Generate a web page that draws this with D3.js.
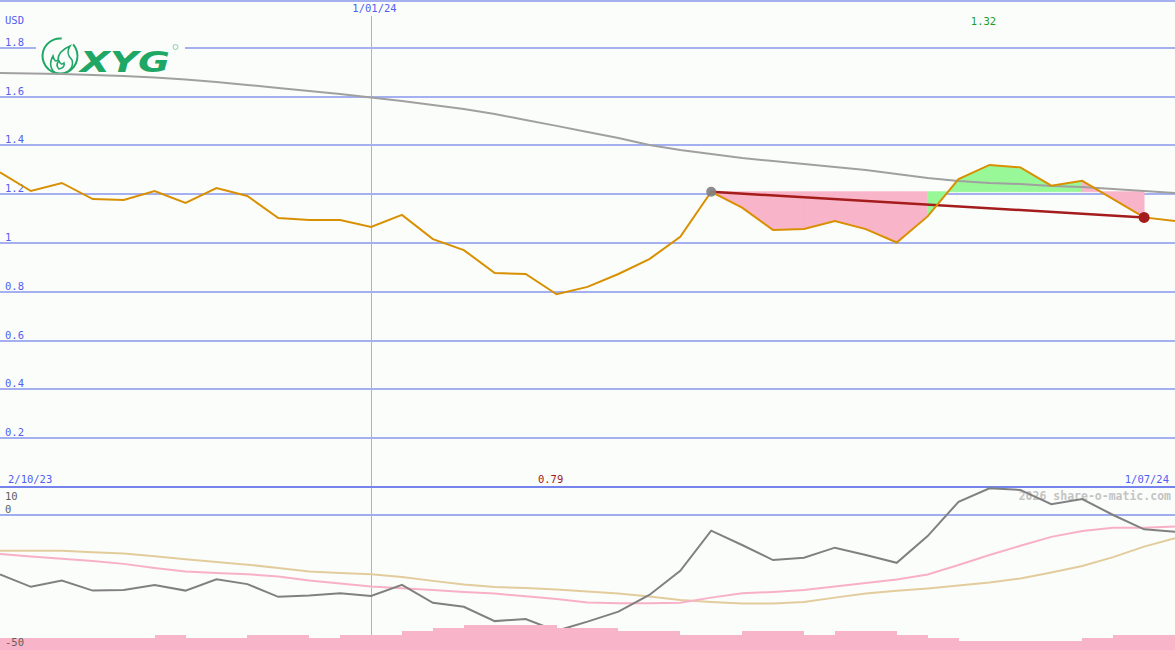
<!DOCTYPE html>
<html><head><meta charset="utf-8">
<script src="https://cdn.jsdelivr.net/npm/d3@7"></script>
<style>html,body{margin:0;padding:0;background:#fbfdfb;overflow:hidden}</style>
</head><body>
<svg id="c" width="1175" height="650"></svg>
<script>
const dates = ["2023-10-09","2023-10-16","2023-10-23","2023-10-30","2023-11-06","2023-11-13","2023-11-20","2023-11-27","2023-12-04","2023-12-11","2023-12-18","2023-12-25","2024-01-01","2024-01-08","2024-01-15","2024-01-22","2024-01-29","2024-02-05","2024-02-12","2024-02-19","2024-02-26","2024-03-04","2024-03-11","2024-03-18","2024-03-25","2024-04-01","2024-04-08","2024-04-15","2024-04-22","2024-04-29","2024-05-06","2024-05-13","2024-05-20","2024-05-27","2024-06-03","2024-06-10","2024-06-17","2024-06-24","2024-07-01"];
const price = [1.29,1.213,1.246,1.18,1.176,1.213,1.164,1.225,1.193,1.102,1.094,1.094,1.066,1.115,1.016,0.971,0.877,0.873,0.79,0.82,0.873,0.934,1.025,1.21,1.145,1.053,1.057,1.09,1.057,1.002,1.109,1.262,1.32,1.31,1.235,1.255,1.18,1.105,1.09];
const longMA = [1.697,1.695,1.693,1.689,1.684,1.678,1.670,1.660,1.648,1.635,1.623,1.611,1.596,1.582,1.566,1.549,1.529,1.504,1.480,1.455,1.430,1.402,1.381,1.365,1.348,1.336,1.324,1.311,1.299,1.283,1.266,1.254,1.246,1.242,1.234,1.230,1.221,1.213,1.205];
const osc = [-22.0,-26.6,-24.3,-28.0,-27.8,-25.9,-28.0,-23.8,-25.6,-30.3,-29.8,-29.0,-30.0,-25.9,-32.5,-34.0,-39.3,-38.5,-42.9,-39.5,-35.8,-29.6,-20.7,-5.8,-11.1,-16.7,-15.8,-12.1,-14.8,-17.7,-7.8,4.9,9.9,9.3,4.0,5.9,0,-5.3,-6.2];
const oscMA1 = [-14.4,-15.4,-16.2,-17.0,-18.1,-19.6,-20.9,-21.5,-21.9,-22.8,-24.3,-25.4,-26.5,-27.1,-27.8,-28.5,-29.1,-30.1,-31.1,-32.4,-32.7,-32.7,-32.5,-30.6,-29.0,-28.5,-27.8,-26.5,-25.2,-23.9,-22.0,-18.5,-14.8,-11.4,-8.1,-5.9,-4.7,-4.7,-4.3];
const oscMA2 = [-13.2,-13.2,-13.2,-13.8,-14.3,-15.3,-16.4,-17.4,-18.4,-19.6,-20.9,-21.5,-21.9,-23.0,-24.4,-25.7,-26.7,-27.0,-27.6,-28.3,-29.1,-30.2,-31.5,-32.2,-32.8,-32.8,-32.2,-30.6,-29.1,-28.1,-27.2,-26.1,-25.0,-23.5,-21.3,-18.9,-15.6,-11.7,-8.6];
const volume = [3.5,3.5,3.5,3.5,3.5,4.5,3.5,3.5,4.5,4.5,3.5,4.5,4.5,5.7,6.7,7.5,7.5,7.5,6.7,6.7,5.7,5.7,4.5,4.5,5.7,5.7,4.5,5.7,5.7,4.5,3.5,2.7,2.7,2.7,2.7,3.5,4.5,4.5];
const priceTicks = [0.2,0.4,0.6,0.8,1,1.2,1.4,1.6,1.8];
const lowerTicks = [10,0,-50];
const markerDate = "2024-01-01";
const trendStart = 23, trendEnd = 37;
const labels = {start:"2/10/23", end:"1/07/24", marker:"1/01/24", unit:"USD", watermark:"2026 share-o-matic.com"};

const W = 1175, H = 650;
const parse = d3.timeParse("%Y-%m-%d");
const D = dates.map(parse);
const svg = d3.select("#c");
const x = d3.scaleTime().domain([D[0], D[D.length-1]]).range([0, W]);
const y = d3.scaleLinear().domain([0, 2]).range([487, -1]);
const yl = d3.scaleLinear().domain([-50, 10]).range([650, 488]);
const yv = d3.scaleLinear().domain([0, 10]).range([650, 616.7]);
const font = "'DejaVu Sans Mono', monospace";

svg.append("rect").attr("width", W).attr("height", H).attr("fill", "#fbfdfb");

// top border
svg.append("line").attr("x1",0).attr("x2",W).attr("y1",0.5).attr("y2",0.5).attr("stroke","#a4b0f0").attr("stroke-width",2).attr("shape-rendering","crispEdges");

// vertical marker
const xm = Math.round(x(parse(markerDate))) + 0.5;
svg.append("line").attr("x1",xm).attr("x2",xm).attr("y1",16).attr("y2",H).attr("stroke","#a0b0f8").attr("stroke-width",1).attr("shape-rendering","crispEdges");
svg.append("text").attr("x",xm+3).attr("y",12).attr("text-anchor","middle").attr("font-family",font).attr("font-size",10.5).attr("fill","#5060f0").text(labels.marker);

// main grid
const g = svg.append("g");
priceTicks.forEach(t => {
  const yy = Math.round(y(t));
  g.append("line").attr("x1",0).attr("x2",W).attr("y1",yy).attr("y2",yy).attr("stroke","#a4b0f0").attr("stroke-width",2).attr("shape-rendering","crispEdges");
  g.append("text").attr("x",5).attr("y",yy-2).attr("font-family",font).attr("font-size",10.5).attr("fill","#5060f0").text(d3.format("~g")(t));
});
svg.append("text").attr("x",5).attr("y",24).attr("font-family",font).attr("font-size",10.5).attr("fill","#5060f0").text(labels.unit);

// logo
const logo = svg.append("g");
logo.append("rect").attr("x",36).attr("y",36).attr("width",149).attr("height",35).attr("fill","#fbfdfb");
logo.append("path").attr("d", d3.arc()({innerRadius:16.5, outerRadius:18.5, startAngle:0.85, endAngle:2*Math.PI+0.1})).attr("transform","translate(60,56)").attr("fill","#1fa766");
logo.append("path").attr("d","M57,74 C50,70 49,63 53,56 C54,61 56,62 58,60 C58,54 63,49 70,46 C66,52 68,56 72,60 C74,66 70,72 63,74 Z M59,69 C56,66 57,63 59,61 C60,64 62,65 64,63 C65,66 63,68 59,69 Z").attr("fill","none").attr("stroke","#1fa766").attr("stroke-width",1.6);
logo.append("text").attr("x",80).attr("y",72).attr("font-family","'DejaVu Sans', sans-serif").attr("font-weight","bold").attr("font-style","italic").attr("font-size",28).attr("textLength",90).attr("lengthAdjust","spacingAndGlyphs").attr("fill","#1fa766").text("XYG");
logo.append("circle").attr("cx",175.5).attr("cy",47).attr("r",2.5).attr("fill","none").attr("stroke","#6cc49a").attr("stroke-width",0.8);

// fills between trend start level and price
const level = price[trendStart];
for (let i = trendStart; i < trendEnd; i++) {
  const pts = [[x(D[i]), y(level)], [x(D[i+1]), y(level)], [x(D[i+1]), y(price[i+1])], [x(D[i]), y(price[i])]];
  const col = price[i+1] > level ? "#98f898" : "#f8b4c8";
  svg.append("path").attr("d", "M" + pts.join("L") + "Z").attr("fill", col).attr("stroke", col).attr("stroke-width",0.8).attr("fill-rule","nonzero");
}

// long MA
svg.append("path").datum(longMA).attr("d", d3.line().x((d,i)=>x(D[i])).y(d=>y(d))).attr("fill","none").attr("stroke","#a0a0a0").attr("stroke-width",2);

// trend line
svg.append("line").attr("x1",x(D[trendStart])).attr("y1",y(price[trendStart])).attr("x2",x(D[trendEnd])).attr("y2",y(price[trendEnd])).attr("stroke","#a41c1c").attr("stroke-width",2.5);

// price
svg.append("path").datum(price).attr("d", d3.line().x((d,i)=>x(D[i])).y(d=>y(d))).attr("fill","none").attr("stroke","#d89000").attr("stroke-width",2);

svg.append("circle").attr("cx",x(D[trendStart])).attr("cy",y(price[trendStart])).attr("r",5).attr("fill","#808080").attr("opacity",0.9);
svg.append("circle").attr("cx",x(D[trendEnd])).attr("cy",y(price[trendEnd])).attr("r",5.5).attr("fill","#a41c1c");

// max/min labels
const iMax = d3.maxIndex(price), iMin = d3.minIndex(price);
svg.append("text").attr("x",x(D[iMax])-6).attr("y",25).attr("text-anchor","middle").attr("font-family",font).attr("font-size",10.5).attr("fill","#20a020").text(d3.format(".2f")(price[iMax]));
svg.append("text").attr("x",x(D[iMin])-6).attr("y",483).attr("text-anchor","middle").attr("font-family",font).attr("font-size",10.5).attr("fill","#a01818").text(d3.format(".2f")(price[iMin]));

// date labels
svg.append("text").attr("x",8).attr("y",483).attr("font-family",font).attr("font-size",10.5).attr("fill","#5060f0").text(labels.start);
svg.append("text").attr("x",W-6).attr("y",483).attr("text-anchor","end").attr("font-family",font).attr("font-size",10.5).attr("fill","#5060f0").text(labels.end);

// lower panel
svg.append("line").attr("x1",0).attr("x2",W).attr("y1",487).attr("y2",487).attr("stroke","#7484ec").attr("stroke-width",2).attr("shape-rendering","crispEdges");
svg.append("line").attr("x1",0).attr("x2",W).attr("y1",Math.round(yl(0))).attr("y2",Math.round(yl(0))).attr("stroke","#a0aef0").attr("stroke-width",2).attr("shape-rendering","crispEdges");
svg.append("text").attr("x",W-4).attr("y",500).attr("text-anchor","end").attr("font-family",font).attr("font-weight","bold").attr("font-size",11.5).attr("fill","#c4c4c4").text(labels.watermark);

const lineL = d3.line().x((d,i)=>x(D[i])).y(d=>yl(d));
svg.append("path").datum(oscMA2).attr("d", lineL).attr("fill","none").attr("stroke","#e2cc9c").attr("stroke-width",2);
svg.append("path").datum(oscMA1).attr("d", lineL).attr("fill","none").attr("stroke","#f8b0c8").attr("stroke-width",2);
svg.append("path").datum(osc).attr("d", lineL).attr("fill","none").attr("stroke","#808080").attr("stroke-width",2);

// volume bars (step)
svg.selectAll("rect.v").data(volume).enter().append("rect").attr("class","v")
  .attr("x",(d,i)=>Math.round(x(D[i]))).attr("width",(d,i)=>Math.round(x(D[i+1]))-Math.round(x(D[i])))
  .attr("y",d=>Math.round(yv(d))).attr("height",d=>H-Math.round(yv(d))).attr("fill","#f8b4c8").attr("shape-rendering","crispEdges");

lowerTicks.forEach(t => {
  const yy = t === 10 ? yl(t)+12 : (t === 0 ? yl(t)-2 : yl(t)-4);
  svg.append("text").attr("x",5).attr("y",yy).attr("font-family",font).attr("font-size",10.5).attr("fill","#606060").text(t);
});
</script>
</body></html>
